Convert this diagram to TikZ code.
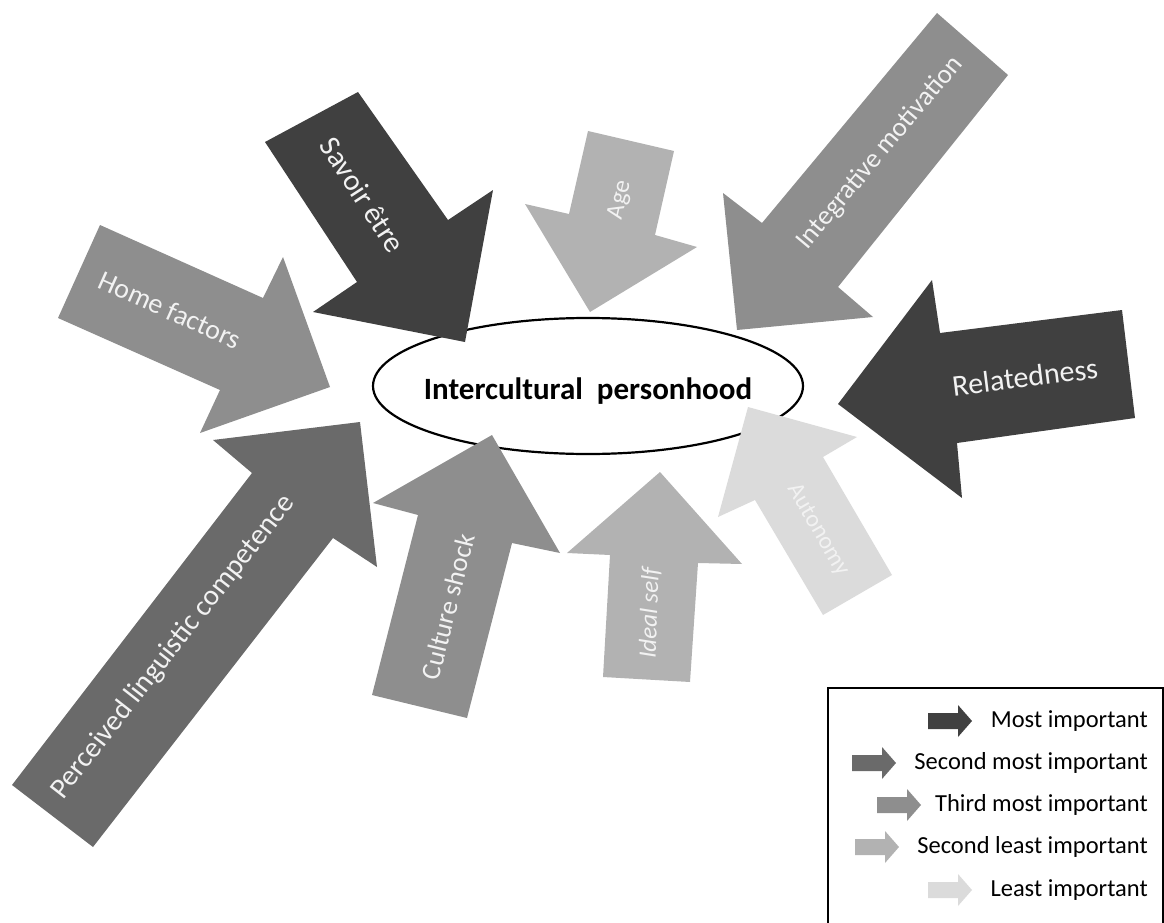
\documentclass[tikz,border=0pt]{standalone}
\usepackage{fontspec}
\setmainfont{Carlito}

\definecolor{rankone}{HTML}{404040}
\definecolor{ranktwo}{HTML}{6A6A6A}
\definecolor{rankthree}{HTML}{8E8E8E}
\definecolor{rankfour}{HTML}{B2B2B2}
\definecolor{rankfive}{HTML}{DBDBDB}

\tikzset{
  factor/.style={text=white!95!black, inner sep=0pt, font=\fontsize{#1}{#1}\selectfont},
  legendtext/.style={anchor=east, inner sep=0pt, font=\fontsize{24.5}{24.5}\selectfont}
}

\begin{document}
\begin{tikzpicture}[x=1pt, y=-1pt]
  \useasboundingbox (0,0) rectangle (1164,923);

  % core
  \draw[line width=2.2pt] (588,386) ellipse [x radius=215, y radius=68];
  \node[inner sep=0pt, font=\fontsize{31}{31}\selectfont\bfseries] (core) at (588,391) {Intercultural\ \ personhood};

  % arrows from above
  \fill[rankone] (265,142) -- (358,92) -- (448,220) -- (493,190) -- (465,342) -- (313,312) -- (357,282) -- cycle;
  \node[factor=30, rotate=-57] (savoir) at (363,195) {Savoir être};
  \fill[rankfour] (588,131) -- (674,151) -- (655,235) -- (697,247) -- (590,312) -- (525,204) -- (569,214) -- cycle;
  \node[factor=25, rotate=77] (age) at (620,200) {Age};
  \fill[rankthree] (937,13) -- (1008,75) -- (838,287) -- (873,317) -- (737,330) -- (723,193) -- (762,223) -- cycle;
  \node[factor=27, rotate=50] (integr) at (880,153) {Integrative motivation};

  % arrows from the sides
  \fill[rankone] (1122,310) -- (1135,418) -- (957,443) -- (962,498) -- (838,404) -- (932,280) -- (940,333) -- cycle;
  \node[factor=30, rotate=7] (related) at (1025,377) {Relatedness};
  \fill[rankthree] (100,225) -- (263,298) -- (283,257) -- (330,387) -- (200,433) -- (220,390) -- (58,318) -- cycle;
  \node[factor=28, rotate=-24] (home) at (170,310) {Home factors};

  % arrows from below
  \fill[ranktwo] (12,785) -- (252,473) -- (213,440) -- (360,422) -- (377,567) -- (333,538) -- (93,847) -- cycle;
  \node[factor=29, rotate=52] (perceived) at (173,647) {Perceived linguistic competence};
  \fill[rankthree] (372,695) -- (418,515) -- (373,503) -- (492,435) -- (560,553) -- (512,543) -- (467,718) -- cycle;
  \node[factor=27, rotate=76] (shock) at (448,607) {Culture shock};
  \fill[rankfour] (603,677) -- (610,555) -- (567,553) -- (660,472) -- (742,564) -- (698,563) -- (690,682) -- cycle;
  \node[factor=25, rotate=88] (ideal) at (650,613) {\itshape Ideal self};
  \fill[rankfive] (823,615) -- (755,500) -- (718,517) -- (748,407) -- (857,437) -- (823,457) -- (892,575) -- cycle;
  \node[factor=24, rotate=-60] (autonomy) at (818,530) {Autonomy};

  % legend
  \draw[line width=1.2pt] (828,930) -- (828,688) -- (1163,688) -- (1163,930);
  \foreach \col/\ax/\y/\txt in {rankone/928/721/Most important, ranktwo/852/763/Second most important,
    rankthree/877/805/Third most important, rankfour/855/847/Second least important, rankfive/928/890/Least important} {
    \fill[\col] (\ax,\y-8) -- ++(30,0) -- ++(0,-8) -- ++(14,16) -- ++(-14,16) -- ++(0,-8) -- ++(-30,0) -- cycle;
    \node[legendtext] (key-\col) at (1148,\y) {\txt};
  }
\end{tikzpicture}
\end{document}
